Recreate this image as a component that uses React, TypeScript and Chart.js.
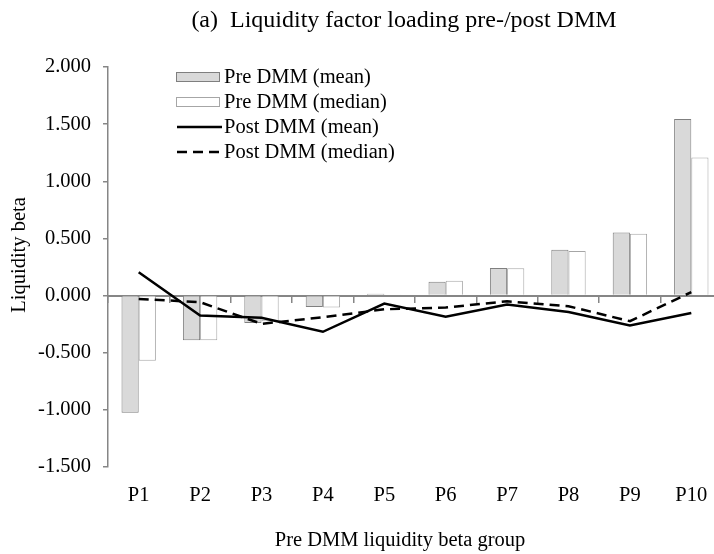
import React, { useEffect, useRef } from "react";
import { Chart, registerables } from "chart.js";

Chart.register(...registerables);

const categories = ["P1", "P2", "P3", "P4", "P5", "P6", "P7", "P8", "P9", "P10"];
const preMean = [-1.025, -0.39, -0.24, -0.1, 0.015, 0.12, 0.242, 0.4, 0.551, 1.545];
const preMedian = [-0.57, -0.39, -0.225, -0.105, 0.005, 0.13, 0.24, 0.39, 0.542, 1.209];
const postMean = [0.204, -0.175, -0.195, -0.317, -0.07, -0.186, -0.079, -0.143, -0.262, -0.152];
const postMedian = [-0.029, -0.058, -0.247, -0.19, -0.12, -0.105, -0.05, -0.093, -0.224, 0.03];
const yTicks = { min: -1.5, max: 2.0, step: 0.5 };

const titleText = "(a)  Liquidity factor loading pre-/post DMM";
const xTitleText = "Pre DMM liquidity beta group";
const yTitleText = "Liquidity beta";

const FONT = "'Liberation Serif', 'Times New Roman', serif";
const FS = 20.5;
const TITLE_FS = 24;
const AXIS = "#868686";

const textPlugin = {
  id: "customText",
  afterDraw(chart: any) {
    const ctx = chart.ctx;
    ctx.save();
    ctx.fillStyle = "#000";
    ctx.textAlign = "center";
    ctx.textBaseline = "middle";
    ctx.font = `${TITLE_FS}px ${FONT}`;
    ctx.fillText(titleText, 404, 21);
    ctx.font = `${FS}px ${FONT}`;
    ctx.fillText(xTitleText, 400, 541);
    ctx.translate(20, 255);
    ctx.rotate(-Math.PI / 2);
    ctx.fillText(yTitleText, 0, 0);
    ctx.restore();

    // legend
    const ds = chart.data.datasets;
    ctx.save();
    ctx.font = `${FS}px ${FONT}`;
    ctx.textAlign = "left";
    ctx.textBaseline = "middle";
    const x0 = 176;
    const y0 = 77;
    const rowH = 25;
    ds.forEach((d: any, i: number) => {
      const y = y0 + i * rowH;
      if (d.type === "line") {
        ctx.strokeStyle = d.borderColor;
        ctx.lineWidth = d.borderWidth;
        ctx.setLineDash(d.borderDash || []);
        ctx.beginPath();
        ctx.moveTo(x0 + 1, y);
        ctx.lineTo(x0 + 46, y);
        ctx.stroke();
        ctx.setLineDash([]);
      } else {
        ctx.fillStyle = d.backgroundColor;
        ctx.fillRect(x0 + 0.5, y - 4.5, 43, 9);
        ctx.strokeStyle = d.borderColor;
        ctx.lineWidth = 1;
        ctx.strokeRect(x0 + 0.5, y - 4.5, 43, 9);
      }
      ctx.fillStyle = "#000";
      ctx.fillText(d.label, x0 + 48, y + 1);
    });
    ctx.restore();
  },
};

export default function App() {
  const ref = useRef<HTMLCanvasElement>(null);
  useEffect(() => {
    if (!ref.current) return;
    const chart = new Chart(ref.current, {
      type: "bar",
      data: {
        labels: categories,
        datasets: [
          {
            type: "bar",
            label: "Pre DMM (mean)",
            data: preMean,
            backgroundColor: "#d9d9d9",
            borderColor: "#7f7f7f",
            borderWidth: 1,
            order: 2,
          },
          {
            type: "bar",
            label: "Pre DMM (median)",
            data: preMedian,
            backgroundColor: "#ffffff",
            borderColor: "#a6a6a6",
            borderWidth: 1,
            order: 2,
          },
          {
            type: "line",
            label: "Post DMM (mean)",
            data: postMean,
            borderColor: "#000",
            borderWidth: 2.5,
            pointRadius: 0,
            tension: 0,
            fill: false,
            order: 1,
          },
          {
            type: "line",
            label: "Post DMM (median)",
            data: postMedian,
            borderColor: "#000",
            borderWidth: 2.5,
            borderDash: [10, 6],
            pointRadius: 0,
            tension: 0,
            fill: false,
            order: 1,
          },
        ] as any,
      },
      plugins: [textPlugin],
      options: {
        animation: false,
        responsive: false,
        devicePixelRatio: 1,
        layout: { padding: { left: 0, right: 8, top: 67, bottom: 0 } },
        plugins: { legend: { display: false }, title: { display: false }, tooltip: { enabled: false } },
        datasets: { bar: { categoryPercentage: 0.56, barPercentage: 1 } } as any,
        scales: {
          x: {
            position: "bottom",
            grid: { display: false, drawTicks: false },
            border: { display: false },
            ticks: { color: "#000", font: { family: FONT, size: FS }, padding: 16 },
            afterFit: (s: any) => {
              s.height = 87;
            },
          },
          x2: {
            type: "category",
            labels: categories,
            position: { y: 0 } as any,
            offset: true,
            grid: { drawOnChartArea: false, drawTicks: true, tickLength: 6, color: AXIS, lineWidth: 1.5, offset: true },
            border: { display: true, color: AXIS, width: 2 },
            ticks: { display: false },
          },
          y: {
            min: yTicks.min,
            max: yTicks.max,
            ticks: {
              stepSize: yTicks.step,
              color: "#000",
              font: { family: FONT, size: FS },
              padding: 12,
              callback: (v: any) => Number(v).toFixed(3),
            },
            grid: { drawOnChartArea: false, drawTicks: true, tickLength: 5, color: AXIS, lineWidth: 1.5 },
            border: { display: true, color: AXIS, width: 1.5 },
            afterFit: (s: any) => {
              s.width = 108;
            },
          },
        },
      } as any,
    });
    return () => chart.destroy();
  }, []);
  return (
    <div style={{ position: "absolute", left: 0, top: 0, width: 714, height: 554, overflow: "hidden", background: "#fff" }}>
      <canvas ref={ref} width={730} height={554} style={{ display: "block" }} />
    </div>
  );
}
